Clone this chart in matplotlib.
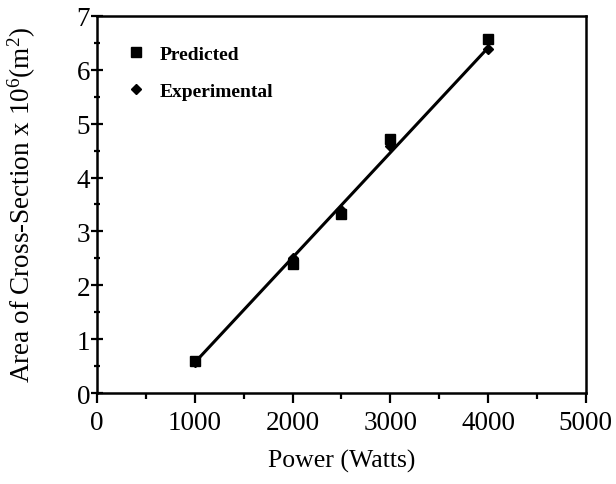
import matplotlib
matplotlib.use("Agg")
import matplotlib.pyplot as plt
from matplotlib.ticker import MultipleLocator
import numpy as np

plt.rcParams['font.family'] = ['Liberation Serif', 'DejaVu Serif']
plt.rcParams['mathtext.fontset'] = 'custom'
plt.rcParams['mathtext.rm'] = 'Liberation Serif'
plt.rcParams['mathtext.it'] = 'Liberation Serif'

# values
power = [1000, 2000, 2500, 3000, 4000]
predicted = [0.60, 2.40, 3.32, 4.71, 6.57]
experimental = [0.58, 2.50, 3.40, 4.58, 6.38]

fig = plt.figure(figsize=(6.16, 4.85), dpi=100)
ax = fig.add_axes([0.1575, 0.1876, 0.7935, 0.7774])

# fitted line through experimental points
slope, icpt = np.polyfit(power, experimental, 1)
xl = np.array([power[0], power[-1]])
ax.plot(xl, slope * xl + icpt, color='black', lw=2.2, zorder=2)

ax.plot(power, predicted, 's', color='black', ms=6.5, label='Predicted', zorder=3)
ax.plot(power, experimental, 'D', color='black', ms=5.5, label='Experimental', zorder=3)

ax.set_xlim(0, 5000)
ax.set_ylim(0, 7)
ax.xaxis.set_major_locator(MultipleLocator(1000))
ax.xaxis.set_minor_locator(MultipleLocator(500))
ax.yaxis.set_major_locator(MultipleLocator(1))
ax.yaxis.set_minor_locator(MultipleLocator(0.5))

for s in ax.spines.values():
    s.set_linewidth(1.8)

ax.tick_params(axis='x', which='major', direction='out', length=7, width=1.6,
               labelsize=19.5, pad=5)
ax.tick_params(axis='x', which='minor', direction='out', length=4, width=1.6)
ax.tick_params(axis='y', which='major', direction='inout', length=8, width=1.6,
               labelsize=19.5, pad=1)
ax.tick_params(axis='y', which='minor', direction='inout', length=4, width=1.6)

ax.set_xlabel('Power (Watts)', fontsize=18.5, labelpad=10)
ax.set_ylabel(r'Area of Cross-Section x 10$^{6}$(m$^{2}$)', fontsize=19.5, labelpad=28)

leg = ax.legend(loc='upper left', frameon=False, handletextpad=0.7,
                borderaxespad=1.1, labelspacing=1.0, handlelength=1.0,
                prop={'weight': 'bold', 'size': 14})

fig.savefig('out.png', dpi=100)
